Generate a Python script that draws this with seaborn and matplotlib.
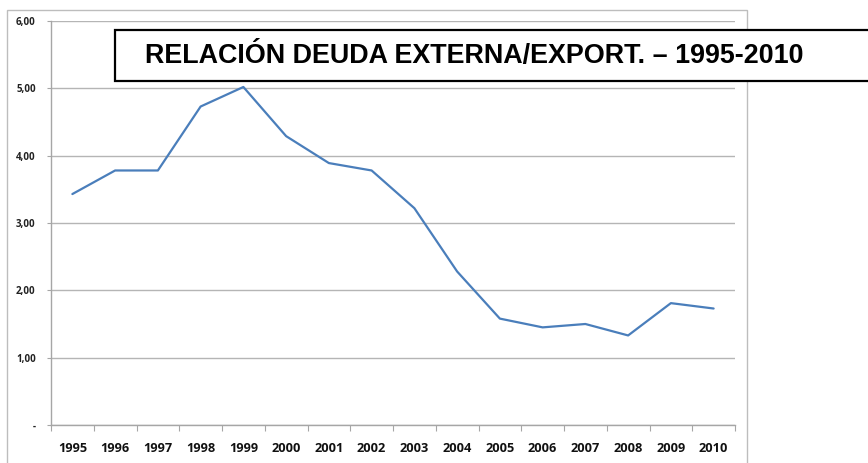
import matplotlib
matplotlib.use("Agg")
import matplotlib.pyplot as plt
import seaborn as sns
import pandas as pd
from matplotlib.patches import Rectangle

years = ["1995", "1996", "1997", "1998", "1999", "2000", "2001", "2002",
         "2003", "2004", "2005", "2006", "2007", "2008", "2009", "2010"]
ratio = [3.43, 3.78, 3.78, 4.73, 5.02, 4.29, 3.89, 3.78,
         3.22, 2.28, 1.58, 1.45, 1.50, 1.33, 1.81, 1.73]
y_ticks = [0, 1, 2, 3, 4, 5, 6]
y_labels = ["-", "1,00", "2,00", "3,00", "4,00", "5,00", "6,00"]
title = "RELACIÓN DEUDA EXTERNA/EXPORT. – 1995-2010"

df = pd.DataFrame({"year": years, "ratio": ratio})

sns.set_theme(style="white")
plt.rcParams["font.family"] = ["Open Sans", "DejaVu Sans"]

W, H = 868, 463
fig = plt.figure(figsize=(W / 100, H / 100), dpi=100)
fig.patch.set_facecolor("white")

# outer chart border
fig.add_artist(Rectangle((7 / W, -0.02), 740 / W, (H - 10) / H + 0.02,
                         transform=fig.transFigure, fill=False,
                         edgecolor="#bdbdbd", linewidth=1.0))

ax = fig.add_axes([51 / W, 38 / H, 684 / W, 404 / H])
sns.lineplot(data=df, x="year", y="ratio", ax=ax, color="#4a7ebb",
             linewidth=1.6, sort=False)

ax.set_xlim(-0.5, len(years) - 0.5)
ax.set_ylim(0, 6)
ax.set_xlabel("")
ax.set_ylabel("")

ax.set_yticks(y_ticks)
ax.set_yticklabels(y_labels, fontsize=7, fontweight="bold", color="#222222")
ax.tick_params(axis="y", length=3, width=0.8, color="#a6a6a6", pad=8, left=True)

ax.set_xticks(range(len(years)))
ax.set_xticklabels(years, fontsize=9.2, fontweight="bold", color="#111111")
ax.set_xticks([i - 0.5 for i in range(len(years) + 1)], minor=True)
ax.tick_params(axis="x", which="major", length=0, pad=12)
ax.tick_params(axis="x", which="minor", length=4, width=0.8,
               color="#a6a6a6", bottom=True)

ax.grid(axis="y", color="#b5b5b5", linewidth=1.0)
ax.set_axisbelow(True)
for s in ["top", "right"]:
    ax.spines[s].set_visible(False)
for s in ["left", "bottom"]:
    ax.spines[s].set_color("#a6a6a6")
    ax.spines[s].set_linewidth(1.0)

# title box
fig.add_artist(Rectangle((115 / W, (H - 81) / H), (W - 115 + 10) / W, 51 / H,
                         transform=fig.transFigure, facecolor="white",
                         edgecolor="black", linewidth=1.6, zorder=5))
fig.text(145 / W, (H - 56) / H, title, fontsize=19.4, fontweight="bold",
         family=["Liberation Sans", "DejaVu Sans"], color="black",
         ha="left", va="center", zorder=6)

fig.savefig("out.png", dpi=100, facecolor="white")
